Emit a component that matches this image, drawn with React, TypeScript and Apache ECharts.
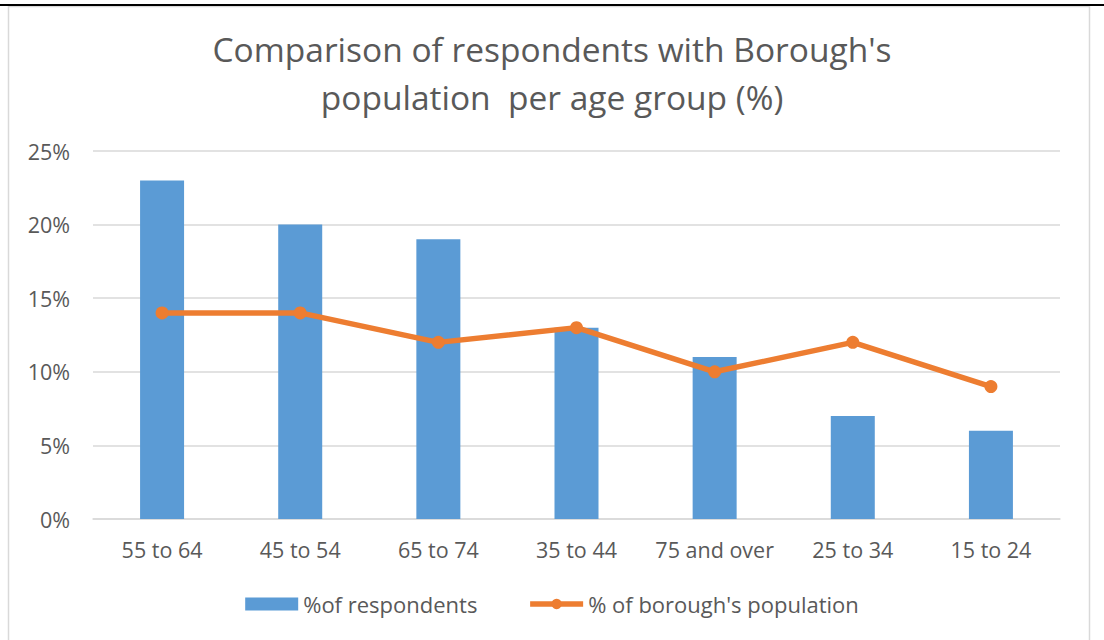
import React, { useEffect, useRef } from "react";
import * as echarts from "echarts";

const categories = ["55 to 64", "45 to 54", "65 to 74", "35 to 44", "75 and over", "25 to 34", "15 to 24"];
const respondents = [23, 20, 19, 13, 11, 7, 6];
const population = [14, 14, 12, 13, 10, 12, 9];
const yTicks = [0, 5, 10, 15, 20, 25];
const titleText = "Comparison of respondents with Borough's\npopulation  per age group (%)";
const seriesNames = ["%of respondents", "% of borough's population"];

const FONT = "'Open Sans', 'Liberation Sans', sans-serif";

export default function App() {
  const ref = useRef<HTMLDivElement>(null);
  useEffect(() => {
    if (!ref.current) return;
    const chart = echarts.init(ref.current, null, { renderer: "svg" });
    chart.setOption({
      animation: false,
      backgroundColor: "#ffffff",
      title: {
        text: titleText,
        left: "center",
        top: 20,
        textStyle: {
          fontFamily: FONT,
          fontSize: 33.5,
          fontWeight: "normal",
          color: "#595959",
          lineHeight: 48,
        },
      },
      graphic: [
        {
          type: "rect",
          shape: { x: 8.5, y: 6.5, width: 1081, height: 660 },
          style: { fill: "none", stroke: "#d9d9d9", lineWidth: 1.5 },
          silent: true,
        },
        {
          type: "line",
          shape: { x1: 0, y1: 5, x2: 1104, y2: 5 },
          style: { stroke: "#000000", lineWidth: 2 },
          silent: true,
        },
      ],
      legend: {
        top: 588,
        left: "center",
        itemGap: 50,
        itemWidth: 53,
        itemHeight: 13,
        textStyle: { fontFamily: FONT, fontSize: 22, color: "#595959" },
        data: [
          { name: seriesNames[0], icon: "rect" },
          { name: seriesNames[1], lineStyle: { width: 5.5 }, itemStyle: { color: "#ed7d31" } },
        ],
      },
      grid: { left: 93, right: 44, top: 151, bottom: 121, containLabel: false },
      xAxis: {
        type: "category",
        data: categories,
        axisLine: { lineStyle: { color: "#d9d9d9", width: 1.5 } },
        axisTick: { show: false },
        axisLabel: { interval: 0, fontFamily: FONT, fontSize: 21.5, color: "#595959", margin: 19 },
      },
      yAxis: {
        type: "value",
        min: yTicks[0],
        max: yTicks[yTicks.length - 1],
        interval: 5,
        axisLine: { show: false },
        axisTick: { show: false },
        splitLine: { lineStyle: { color: "#d9d9d9", width: 1.5 } },
        axisLabel: { fontFamily: FONT, fontSize: 21.5, color: "#595959", margin: 23, formatter: "{value}%" },
      },
      series: [
        {
          name: seriesNames[0],
          type: "bar",
          data: respondents,
          barWidth: 44,
          itemStyle: { color: "#5b9bd5" },
        },
        {
          name: seriesNames[1],
          type: "line",
          data: population,
          symbol: "circle",
          symbolSize: 13,
          lineStyle: { color: "#ed7d31", width: 5.5 },
          itemStyle: { color: "#ed7d31" },
        },
      ],
    });
    return () => chart.dispose();
  }, []);
  return (
    <div
      ref={ref}
      style={{ position: "fixed", left: 0, top: 0, width: 1104, height: 640 }}
    />
  );
}
